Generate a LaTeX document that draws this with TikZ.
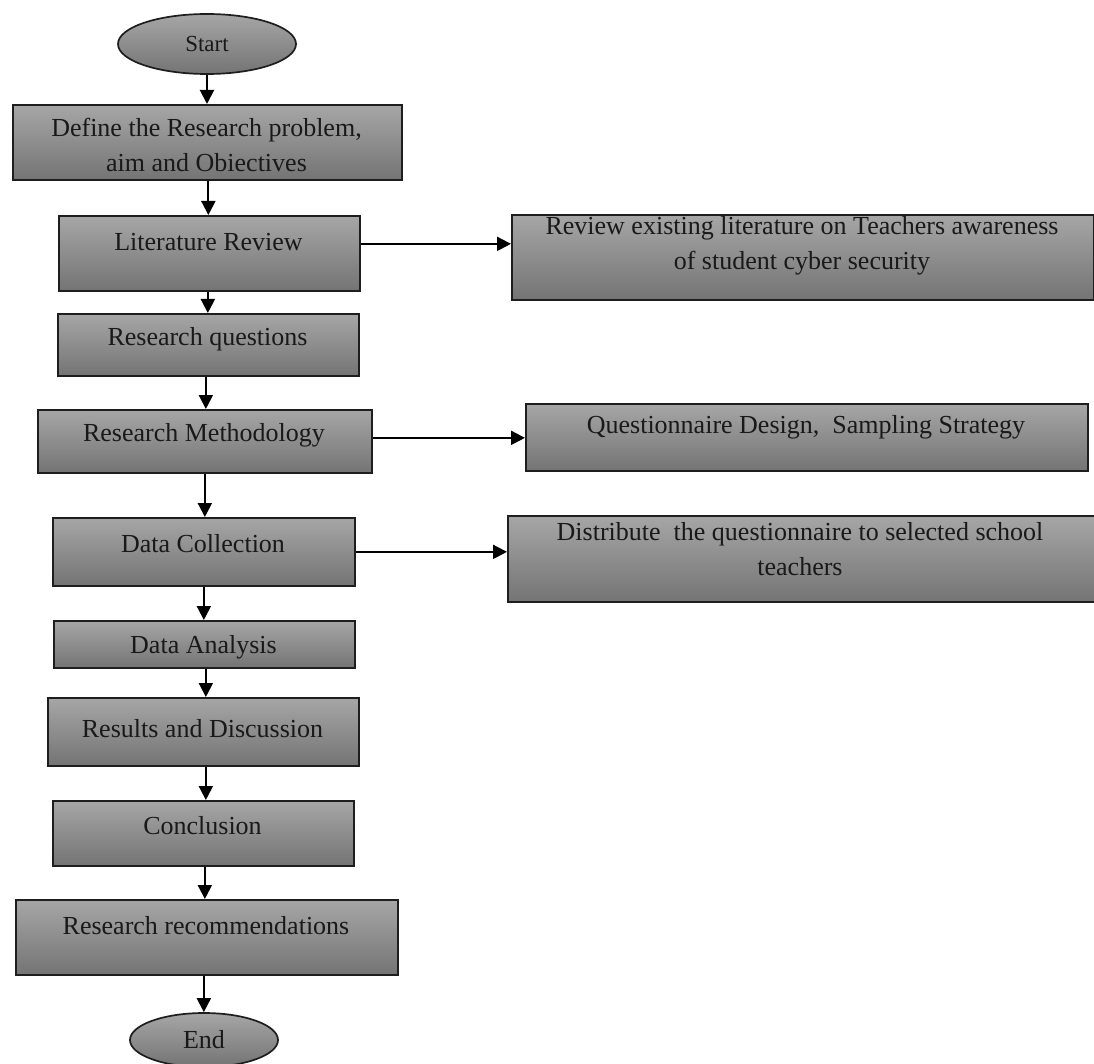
\documentclass[tikz,border=0pt]{standalone}
\usepackage{fontspec}
\setmainfont{Liberation Serif}
\usetikzlibrary{shapes.geometric,arrows.meta}
\definecolor{topg}{RGB}{166,166,166}
\definecolor{botg}{RGB}{116,116,116}
\definecolor{edge}{RGB}{30,30,30}
\begin{document}
\begin{tikzpicture}[x=1pt,y=-1pt,
  box/.style={draw=edge, line width=1.7pt, top color=topg, bottom color=botg, rectangle, anchor=north west, inner sep=0pt},
  oval/.style={draw=edge, line width=1.7pt, top color=topg, bottom color=botg, ellipse, inner sep=0pt},
  txt/.style={align=center, font=\fontsize{26}{35}\selectfont, inner sep=0pt, text=black!90},
  arr/.style={draw=black, line width=2pt, -{Triangle[length=14pt,width=14pt]}}]
\useasboundingbox (0,0) rectangle (1094,1064);
\fill[white] (0,0) rectangle (1094,1064);

% main column
\node[oval, minimum width=178pt, minimum height=60pt] (start) at (207,44) {};
\node[txt, font=\fontsize{23}{28}\selectfont] (tstart) at (207,44) {Start};

\node[box, minimum width=389pt, minimum height=75pt] (def) at (12,104) {};
\node[txt] (tdef) at (206.5,145) {Define the Research problem,\\aim and Obiectives};

\node[box, minimum width=301pt, minimum height=75pt] (lit) at (58,215) {};
\node[txt] (tlit) at (208.5,242) {Literature Review};

\node[box, minimum width=301pt, minimum height=62pt] (rq) at (57,313) {};
\node[txt] (trq) at (207.5,339) {Research questions};

\node[box, minimum width=334pt, minimum height=63pt] (rm) at (37,409) {};
\node[txt] (trm) at (204,435) {Research Methodology};

\node[box, minimum width=302pt, minimum height=68pt] (dc) at (52,517) {};
\node[txt] (tdc) at (203,544) {Data Collection};

\node[box, minimum width=301pt, minimum height=47pt] (da) at (53,620) {};
\node[txt] (tda) at (203.5,647) {Data Analysis};

\node[box, minimum width=311pt, minimum height=68pt] (rd) at (47,697) {};
\node[txt] (trd) at (202.5,729) {Results and Discussion};

\node[box, minimum width=301pt, minimum height=65pt] (conc) at (52,800) {};
\node[txt] (tconc) at (202.5,826) {Conclusion};

\node[box, minimum width=382pt, minimum height=75pt] (rr) at (15,899) {};
\node[txt] (trr) at (206,926) {Research recommendations};

\node[oval, minimum width=148pt, minimum height=54pt] (end) at (204,1040) {};
\node[txt] (tend) at (204,1040) {End};

% right column
\node[box, minimum width=582pt, minimum height=85pt] (r1) at (511,214) {};
\node[txt] (tr1) at (802,246) {Review existing literature on Teachers awareness\\of student cyber security};

\node[box, minimum width=562pt, minimum height=67pt] (r2) at (525,403) {};
\node[txt] (tr2) at (806,427) {Questionnaire Design,\ \ Sampling Strategy};

\node[box, minimum width=587pt, minimum height=86pt] (r3) at (507,515) {};
\node[txt] (tr3) at (800,549) {Distribute\ \ the questionnaire to selected school\\teachers};

% vertical arrows
\draw[arr] (start.south) -- (start.south |- def.north);
\draw[arr] ([xshift=1pt]def.south) -- ([xshift=1pt]def.south |- lit.north);
\draw[arr] ([xshift=-1.5pt]lit.south) -- ([xshift=-1.5pt]lit.south |- rq.north);
\draw[arr] ([xshift=-2.5pt]rq.south) -- ([xshift=-2.5pt]rq.south |- rm.north);
\draw[arr] (rm.south) -- (rm.south |- dc.north);
\draw[arr] (dc.south) -- (dc.south |- da.north);
\draw[arr] ([xshift=1.5pt]da.south) -- ([xshift=1.5pt]da.south |- rd.north);
\draw[arr] ([xshift=2.5pt]rd.south) -- ([xshift=2.5pt]rd.south |- conc.north);
\draw[arr] ([xshift=1.5pt]conc.south) -- ([xshift=1.5pt]conc.south |- rr.north);
\draw[arr] ([xshift=-3pt]rr.south) -- ([xshift=-3pt]rr.south |- end.north);

% horizontal arrows
\draw[arr] ([yshift=9.5pt]lit.east) -- ([yshift=9.5pt]lit.east -| r1.west);
\draw[arr] ([yshift=3.5pt]rm.east) -- ([yshift=3.5pt]rm.east -| r2.west);
\draw[arr] (dc.east) -- (dc.east -| r3.west);
\end{tikzpicture}
\end{document}
